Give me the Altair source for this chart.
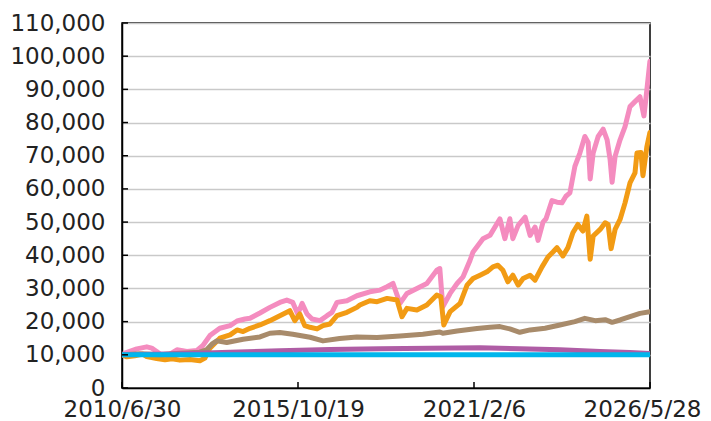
import altair as alt
import pandas as pd
from datetime import datetime, timezone

# ---------------- data ----------------
x_tick_labels = ["2010/6/30", "2015/10/19", "2021/2/6", "2026/5/28"]
y_ticks = [0, 10000, 20000, 30000, 40000, 50000, 60000, 70000, 80000, 90000, 100000, 110000]

series_names = ["S1", "S2", "S3", "S4", "S5"]
series_colors = ["#F48CBF", "#F29B14", "#A88B6B", "#AF5DA5", "#00B6EC"]

# decimal-year dates and values
s1_t = [2010.49, 2010.58, 2010.94, 2011.24, 2011.39, 2011.54, 2011.73, 2011.88,
        2012.15, 2012.45, 2012.75, 2012.93, 2013.14, 2013.44, 2013.75, 2013.96,
        2014.20, 2014.35, 2014.65, 2014.95, 2015.25, 2015.46, 2015.64, 2015.79, 2015.92,
        2016.07, 2016.22, 2016.46, 2016.67, 2016.82, 2016.97, 2017.27, 2017.57, 2017.96,
        2018.27, 2018.48, 2018.66, 2018.87, 2019.08, 2019.38, 2019.68, 2019.98,
        2020.07, 2020.16, 2020.38, 2020.59, 2020.77, 2020.98, 2021.07, 2021.37, 2021.58,
        2021.79, 2021.88, 2022.03, 2022.18, 2022.27, 2022.43, 2022.64, 2022.79, 2022.94,
        2023.03, 2023.18, 2023.27, 2023.45, 2023.60, 2023.75, 2023.87, 2023.99,
        2024.14, 2024.29, 2024.44, 2024.54, 2024.60, 2024.69, 2024.84, 2024.99,
        2025.11, 2025.20, 2025.26, 2025.35, 2025.50, 2025.65, 2025.80, 2025.95,
        2026.10, 2026.22, 2026.31, 2026.40]
s1_v = [10000, 10500, 11800, 12400, 12000, 11000, 9500, 9800,
        11500, 11000, 11300, 12800, 15800, 18000, 18800, 20200,
        20800, 21000, 22600, 24300, 25800, 26500, 25800, 22300, 25500,
        22300, 20800, 20300, 21800, 22800, 25800, 26300, 27800, 29000,
        29500, 30500, 31500, 25500, 28500, 30000, 31500, 35500,
        36000, 24500, 28500, 31500, 33500, 38500, 41000, 45000, 46000,
        49500, 51000, 45000, 51000, 45000, 49000, 51500, 46000, 48500,
        44500, 50000, 51000, 56500, 56000, 55800, 57800, 58800,
        66800, 70800, 75800, 74000, 63000, 70800, 75800, 78000,
        74800, 68800, 62000, 69800, 74800, 78800, 84800, 86300,
        87800, 82000, 90000, 98500]

s2_t = [2010.49, 2010.64, 2010.88, 2011.12, 2011.24, 2011.54, 2011.79, 2012.00,
        2012.24, 2012.54, 2012.84, 2012.99, 2013.14, 2013.44, 2013.75, 2013.96,
        2014.14, 2014.35, 2014.65, 2014.95, 2015.25, 2015.55, 2015.70, 2015.85,
        2016.00, 2016.16, 2016.37, 2016.55, 2016.76, 2016.97, 2017.27, 2017.57,
        2017.66, 2017.96, 2018.18, 2018.48, 2018.78, 2018.93, 2019.08, 2019.38,
        2019.68, 2019.98, 2020.10, 2020.19, 2020.38, 2020.68, 2020.89, 2021.07,
        2021.28, 2021.49, 2021.67, 2021.82, 2021.97, 2022.12, 2022.27, 2022.43,
        2022.58, 2022.79, 2022.94, 2023.15, 2023.33, 2023.48, 2023.60, 2023.78,
        2023.93, 2024.08, 2024.23, 2024.38, 2024.50, 2024.60, 2024.69, 2024.90,
        2025.05, 2025.14, 2025.23, 2025.35, 2025.50, 2025.65, 2025.80, 2025.95,
        2026.01, 2026.13, 2026.19, 2026.31, 2026.40]
s2_v = [10000, 9400, 9700, 10200, 9500, 8900, 8500, 8800,
        8400, 8600, 8200, 9000, 12000, 15000, 16000, 17500,
        17000, 18000, 19000, 20300, 21800, 23300, 20300, 22300,
        18800, 18300, 17800, 18800, 19300, 21800, 22800, 24300,
        25000, 26300, 26000, 27000, 26500, 21500, 24000, 23500,
        25000, 28000, 27500, 19000, 23000, 25500, 31000, 33000,
        34000, 35000, 36500, 37000, 35500, 32000, 34000, 31000,
        33000, 34000, 32500, 36500, 39500, 41000, 42300, 39800,
        42300, 46800, 49300, 47300, 51800, 38800, 45800, 47800,
        49800, 49300, 42000, 47800, 50800, 55800, 61800, 64800,
        70800, 71000, 64000, 72800, 77000]

s3_t = [2010.49, 2011.03, 2011.64, 2012.24, 2012.84, 2013.05, 2013.20, 2013.35,
        2013.65, 2014.14, 2014.65, 2014.95, 2015.25, 2015.64, 2016.16, 2016.55,
        2017.05, 2017.57, 2018.18, 2018.87, 2019.56, 2020.07, 2020.16, 2020.59,
        2021.19, 2021.58, 2021.88, 2022.18, 2022.48, 2022.79, 2023.24, 2023.69,
        2024.14, 2024.44, 2024.75, 2025.05, 2025.26, 2025.50, 2025.80, 2026.10,
        2026.40]
s3_v = [10000, 10300, 10000, 10500, 10800, 11600, 13200, 14200,
        13700, 14700, 15400, 16500, 16700, 16200, 15300, 14200,
        14900, 15400, 15200, 15700, 16200, 16900, 16500, 17200,
        17900, 18300, 18500, 17800, 16800, 17500, 18000, 19000,
        20000, 21000, 20300, 20600, 19800, 20500, 21500, 22500,
        23000]

s4_t = [2010.49, 2012.24, 2013.75, 2015.25, 2016.76, 2018.27, 2019.77, 2021.28,
        2022.48, 2023.69, 2024.90, 2025.80, 2026.40]
s4_v = [10000, 10300, 10800, 11200, 11600, 11800, 12000, 12100,
        11800, 11500, 11000, 10700, 10400]

s5_t = [2010.49, 2014.00, 2018.00, 2022.00, 2026.40]
s5_v = [10000, 10000, 10010, 10030, 10050]


# ---------------- helpers ----------------
def year_to_ms(y):
    yi = int(y)
    a = datetime(yi, 1, 1, tzinfo=timezone.utc)
    b = datetime(yi + 1, 1, 1, tzinfo=timezone.utc)
    return (a + (b - a) * (y - yi)).timestamp() * 1000


def label_to_ms(s):
    y, m, d = (int(p) for p in s.split("/"))
    return datetime(y, m, d, tzinfo=timezone.utc).timestamp() * 1000


tick_ms = [label_to_ms(s) for s in x_tick_labels]

all_t = [s1_t, s2_t, s3_t, s4_t, s5_t]
all_v = [s1_v, s2_v, s3_v, s4_v, s5_v]

W, H = 528, 365
FONT = "DejaVu Sans"
FS = 23

x_scale = alt.Scale(type="utc", domain=[tick_ms[0], tick_ms[-1]])
y_scale = alt.Scale(domain=[0, 110000], nice=False)

last_test = "+datum.value >= %d" % int(tick_ms[-1] - 1000)
x_axis = alt.Axis(values=tick_ms, labelExpr="utcFormat(datum.value, '%Y/%-m/%-d')",
                  ticks=False, grid=False, domainColor="black", domainWidth=1.5,
                  labelFont=FONT, labelFontSize=FS, labelColor="#222222",
                  labelPadding=10, labelOverlap=False, labelBound=False,
                  labelFlush=False, title=None,
                  labelOffset={"condition": {"test": last_test, "value": -8}, "value": 0})
y_axis = alt.Axis(values=y_ticks, format=",.0f", ticks=False, grid=True,
                  gridColor="#c9c9c9", gridWidth=1.5, domainColor="black",
                  domainWidth=1.5, labelFont=FONT, labelFontSize=FS,
                  labelColor="#222222", labelPadding=17, title=None)

layers = []
for i, (name, col) in enumerate(zip(series_names, series_colors)):
    df = pd.DataFrame({"t": [year_to_ms(t) for t in all_t[i]], "value": all_v[i]})
    layers.append(
        alt.Chart(df).mark_line(color=col, strokeWidth=5, strokeJoin="round",
                                strokeCap="round", clip=True)
        .encode(x=alt.X("t:T", scale=x_scale, axis=x_axis),
                y=alt.Y("value:Q", scale=y_scale, axis=y_axis))
    )

ytick_df = pd.DataFrame({"value": y_ticks})
yticks = alt.Chart(ytick_df).mark_rule(color="black", strokeWidth=1.5).encode(
    y=alt.Y("value:Q", scale=y_scale, axis=y_axis), x=alt.value(0), x2=alt.value(6))

xtick_df = pd.DataFrame({"t": tick_ms})
xticks = alt.Chart(xtick_df).mark_rule(color="black", strokeWidth=1.5).encode(
    x=alt.X("t:T", scale=x_scale, axis=x_axis), y=alt.value(H), y2=alt.value(H - 6))

chart = alt.layer(*layers, yticks, xticks).properties(
    width=W, height=H,
    autosize=alt.AutoSizeParams(type="none"),
    padding={"left": 114, "top": 15, "right": 53, "bottom": 33},
).configure_view(stroke="black", strokeWidth=1.5)

chart.save("out.html", embed_options={"renderer": "svg", "actions": False})
